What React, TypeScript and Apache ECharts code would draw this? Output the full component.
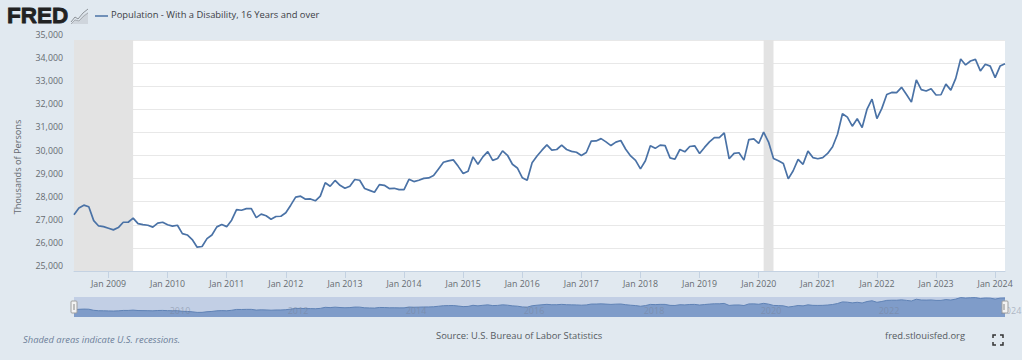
import React, { useEffect, useRef } from "react";
import * as echarts from "echarts";

const monthNames = ["Jan", "Feb", "Mar", "Apr", "May", "Jun", "Jul", "Aug", "Sep", "Oct", "Nov", "Dec"];
const seriesName = "Population - With a Disability, 16 Years and over";
const yTicks = [25000, 35000];
const values: number[] = [
  27440, 27730, 27850, 27780, 27180, 26950, 26920, 26850, 26780, 26880, 27110, 27110,
  27290, 27050, 27010, 26980, 26900, 27070, 27110, 27000, 26940, 26980, 26620, 26560,
  26360, 26030, 26060, 26400, 26560, 26910, 27010, 26920, 27200, 27660, 27630, 27700,
  27700, 27310, 27460, 27390, 27240, 27360, 27370, 27520, 27850, 28200, 28240, 28110,
  28120, 28040, 28240, 28820, 28670, 28920, 28710, 28580, 28670, 28960, 28930, 28570,
  28490, 28410, 28740, 28710, 28570, 28580, 28520, 28520, 28970, 28870, 28930, 29010,
  29030, 29130, 29420, 29710, 29770, 29810, 29530, 29220, 29320, 29940, 29620, 29940,
  30170, 29790, 29870, 30200, 30010, 29620, 29460, 29040, 28930, 29690, 29980, 30230,
  30460, 30230, 30260, 30450, 30260, 30180, 30140, 30000, 30130, 30620, 30630, 30730,
  30590, 30430, 30580, 30650, 30270, 29980, 29790, 29420, 29770, 30420, 30310, 30450,
  30430, 29900, 29840, 30260, 30160, 30390, 30420, 30090, 30350, 30590, 30770, 30770,
  30980, 29860, 30090, 30120, 29800, 30690, 30720, 30520, 31010, 30580, 29870, 29770,
  29650, 28990, 29340, 29830, 29620, 30190, 29910, 29860, 29910, 30090, 30380, 30920,
  31810, 31660, 31270, 31590, 31210, 32010, 32440, 31600, 32040, 32640, 32730, 32720,
  32950, 32640, 32310, 33270, 32850, 32790, 32890, 32620, 32630, 33090, 32830, 33340,
  34180, 33920, 34090, 34160, 33660, 33950, 33870, 33370, 33870, 33970,
];
const categories: string[] = values.map((_, i) => {
  const m = 5 + i;
  return `${monthNames[m % 12]} ${2008 + Math.floor(m / 12)}`;
});
const recessions: [string, string][] = [
  ["Jun 2008", "Jun 2009"],
  ["Feb 2020", "Apr 2020"],
];
const navLabels = [
  ["2010", 180], ["2012", 298], ["2014", 416], ["2016", 534],
  ["2018", 654], ["2020", 771], ["2022", 889], ["2024", 1011],
] as [string, number][];

const FONT = "'Open Sans', sans-serif";
const BG = "#e1e9f0";
const LINE = "#4a72a6";

export default function App() {
  const ref = useRef<HTMLDivElement>(null);
  useEffect(() => {
    const chart = echarts.init(ref.current!, undefined, { renderer: "svg" });
    const isJan = (i: number) => i % 12 === 7;
    chart.setOption({
      animation: false,
      backgroundColor: BG,
      textStyle: { fontFamily: FONT },
      grid: [
        { left: 74, top: 40, width: 931, height: 231, show: true, backgroundColor: "#ffffff", borderWidth: 0 },
        { left: 74, top: 297, width: 931, height: 20, show: true, backgroundColor: "#c2cfe5", borderWidth: 0 },
      ],
      xAxis: [
        {
          type: "category", gridIndex: 0, data: categories, boundaryGap: false,
          axisLine: { lineStyle: { color: "#c4d2e2", width: 1 } },
          axisTick: { interval: (i: number) => isJan(i), length: 7, lineStyle: { color: "#c4d2e2" } },
          axisLabel: {
            interval: (i: number) => isJan(i), color: "#666b70", fontSize: 8.8, margin: 8, fontFamily: FONT,
          },
          splitLine: { show: false },
        },
        {
          type: "category", gridIndex: 1, data: categories, boundaryGap: false,
          axisLine: { show: false }, axisTick: { show: false }, axisLabel: { show: false }, splitLine: { show: false },
        },
      ],
      yAxis: [
        {
          type: "value", gridIndex: 0, min: yTicks[0], max: yTicks[1], interval: 1000,
          axisLine: { show: false }, axisTick: { show: false },
          axisLabel: {
            color: "#666b70", fontSize: 8.8, margin: 11, verticalAlign: "bottom", lineHeight: 10, fontFamily: FONT,
            formatter: (v: number) => v.toLocaleString("en-US"),
          },
          splitLine: { lineStyle: { color: "#e8e8e8", width: 1 } },
        },
        {
          type: "value", gridIndex: 1, min: 23500, max: 34500,
          axisLine: { show: false }, axisTick: { show: false }, axisLabel: { show: false }, splitLine: { show: false },
        },
      ],
      series: [
        {
          name: seriesName, type: "line", xAxisIndex: 0, yAxisIndex: 0, data: values,
          showSymbol: false, symbol: "none", lineStyle: { color: LINE, width: 1.7 },
          markArea: {
            silent: true, itemStyle: { color: "#e3e3e3" },
            data: recessions.map(([a, b]) => [{ xAxis: a }, { xAxis: b }]),
          },
        },
        {
          name: "navigator", type: "line", xAxisIndex: 1, yAxisIndex: 1, data: values,
          showSymbol: false, symbol: "none", lineStyle: { color: "#5f82b5", width: 1 },
          areaStyle: { color: "#7f9cc9", opacity: 1 },
        },
      ],
      graphic: [
        {
          type: "text", x: 7, y: 4,
          style: { text: "FRED", fontFamily: "'Liberation Sans', Arial, sans-serif", fontWeight: 900, fontSize: 22.5, fill: "#222222", stroke: "#222222", lineWidth: 0.8 },
        },
        { type: "polygon", shape: { points: [[71, 24], [75, 19], [78, 21], [83, 15], [88, 12], [88, 24]] }, style: { fill: "#cfd5dc" } },
        { type: "polyline", shape: { points: [[71, 22], [75, 17], [78, 19], [83, 13], [88, 9]] }, style: { stroke: "#8d9298", lineWidth: 1, fill: "none" } },
        { type: "polyline", shape: { points: [[71, 24], [75, 20], [79, 21], [84, 16], [88, 13]] }, style: { stroke: "#a8adb3", lineWidth: 1, fill: "none" } },
        { type: "line", shape: { x1: 95, y1: 16, x2: 108, y2: 16 }, style: { stroke: LINE, lineWidth: 1.5 } },
        {
          type: "text", x: 111, y: 10,
          style: { text: seriesName, fontFamily: FONT, fontSize: 9.4, fill: "#3c4046" },
        },
        {
          type: "text", x: 17, y: 167, rotation: Math.PI / 2, originX: 0, originY: 0,
          style: { text: "Thousands of Persons", fontFamily: FONT, fontSize: 9.2, fill: "#666b70", align: "center", verticalAlign: "middle" },
        },
        ...navLabels.map(([t, x]) => ({
          type: "text", x, y: 310, z: 10,
          style: { text: t, fontFamily: FONT, fontSize: 9, fill: "rgba(120,130,150,0.5)", align: "center", verticalAlign: "middle" },
        })),
        { type: "rect", z: 20, shape: { x: 71, y: 301, width: 6, height: 12, r: 1 }, style: { fill: "#f2f2f2", stroke: "#a0a0a0", lineWidth: 1 } },
        { type: "line", z: 21, shape: { x1: 74, y1: 304, x2: 74, y2: 310 }, style: { stroke: "#888888", lineWidth: 1 } },
        { type: "rect", z: 20, shape: { x: 1002, y: 301, width: 6, height: 12, r: 1 }, style: { fill: "#f2f2f2", stroke: "#a0a0a0", lineWidth: 1 } },
        { type: "line", z: 21, shape: { x1: 1004, y1: 304, x2: 1004, y2: 310 }, style: { stroke: "#888888", lineWidth: 1 } },
        {
          type: "text", x: 23, y: 339,
          style: { text: "Shaded areas indicate U.S. recessions.", fontFamily: FONT, fontStyle: "italic", fontSize: 9.4, fill: "#6d7f99", verticalAlign: "middle" },
        },
        {
          type: "text", x: 436, y: 335,
          style: { text: "Source: U.S. Bureau of Labor Statistics", fontFamily: FONT, fontSize: 9.4, fill: "#555a60", verticalAlign: "middle" },
        },
        {
          type: "text", x: 885, y: 335,
          style: { text: "fred.stlouisfed.org", fontFamily: FONT, fontSize: 9.4, fill: "#555a60", verticalAlign: "middle" },
        },
        ...[
          [[993, 338], [993, 335], [996, 335]],
          [[1000, 335], [1003, 335], [1003, 338]],
          [[993, 342], [993, 345], [996, 345]],
          [[1000, 345], [1003, 345], [1003, 342]],
        ].map((points) => ({
          type: "polyline", shape: { points }, style: { stroke: "#333333", lineWidth: 1.5, fill: "none" },
        })),
      ],
    });
    return () => chart.dispose();
  }, []);
  return <div ref={ref} style={{ position: "absolute", left: 0, top: 0, width: 1022, height: 360 }} />;
}
